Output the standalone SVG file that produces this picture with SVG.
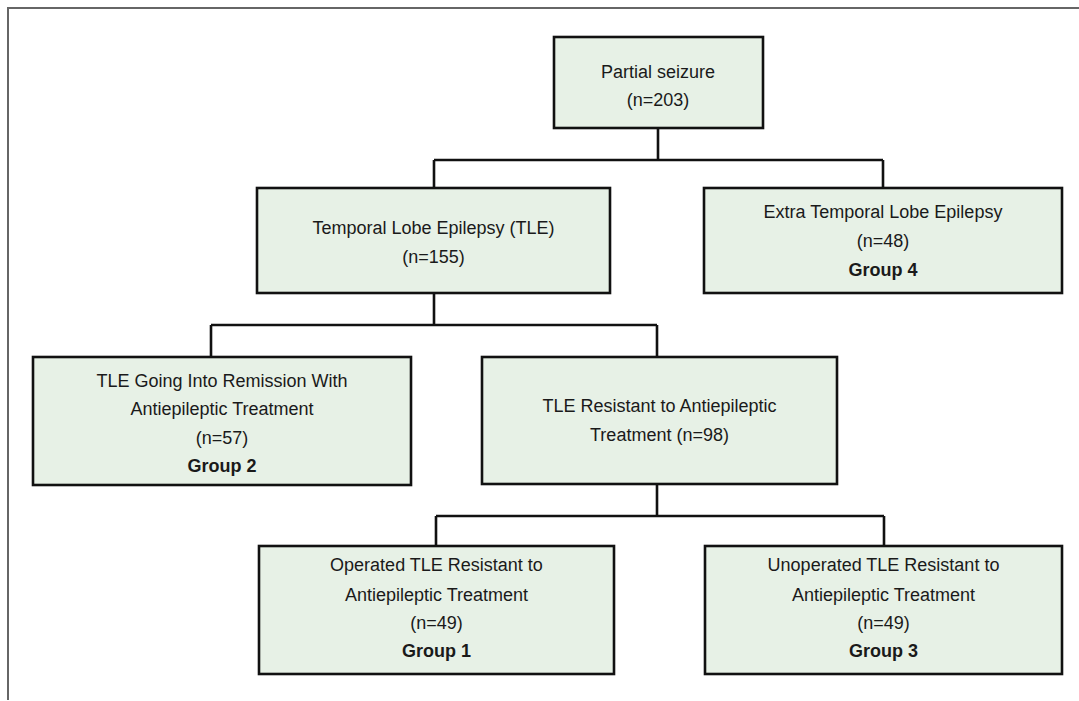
<svg xmlns="http://www.w3.org/2000/svg" width="1079" height="701" viewBox="0 0 1079 701">
<style>
.box{fill:#e7f1e6;stroke:#111;stroke-width:2.6}
.t{font-family:"Liberation Sans",Arial,sans-serif;font-size:18px;fill:#1a1a1a;text-anchor:middle}
.b{font-weight:bold}
.c{fill:none;stroke:#111;stroke-width:2.6}
.frame{fill:none;stroke:#666;stroke-width:2}
</style>
<rect width="1079" height="701" fill="#fff"/>
<path class="frame" d="M8,700 V8 H1079"/>
<g id="connectors">
<path class="c" d="M658,128 V160 M434,160 H883 M434,160 V188 M883,160 V188"/>
<path class="c" d="M434,293 V325 M211,325 H657 M211,325 V357 M657,325 V357"/>
<path class="c" d="M657,484 V516 M436,516 H884 M436,516 V546 M884,516 V546"/>
</g>
<g id="partial">
<rect class="box" x="554" y="37" width="209" height="91"/>
<text class="t" x="658" y="78">Partial seizure</text>
<text class="t" x="658" y="106">(n=203)</text>
</g>
<g id="tle">
<rect class="box" x="257" y="188" width="353" height="105"/>
<text class="t" x="433.5" y="234">Temporal Lobe Epilepsy (TLE)</text>
<text class="t" x="433.5" y="263">(n=155)</text>
</g>
<g id="extra">
<rect class="box" x="704" y="188" width="358" height="105"/>
<text class="t" x="883" y="218">Extra Temporal Lobe Epilepsy</text>
<text class="t" x="883" y="247">(n=48)</text>
<text class="t b" x="883" y="276">Group 4</text>
</g>
<g id="remission">
<rect class="box" x="33" y="357" width="378" height="128"/>
<text class="t" x="222" y="387">TLE Going Into Remission With</text>
<text class="t" x="222" y="415">Antiepileptic Treatment</text>
<text class="t" x="222" y="444">(n=57)</text>
<text class="t b" x="222" y="472">Group 2</text>
</g>
<g id="resistant">
<rect class="box" x="482" y="357" width="355" height="127"/>
<text class="t" x="659.5" y="412">TLE Resistant to Antiepileptic</text>
<text class="t" x="659.5" y="441">Treatment (n=98)</text>
</g>
<g id="operated">
<rect class="box" x="259" y="546" width="355" height="128"/>
<text class="t" x="436.5" y="571">Operated TLE Resistant to</text>
<text class="t" x="436.5" y="601">Antiepileptic Treatment</text>
<text class="t" x="436.5" y="629">(n=49)</text>
<text class="t b" x="436.5" y="657">Group 1</text>
</g>
<g id="unoperated">
<rect class="box" x="705" y="546" width="357" height="128"/>
<text class="t" x="883.5" y="571">Unoperated TLE Resistant to</text>
<text class="t" x="883.5" y="601">Antiepileptic Treatment</text>
<text class="t" x="883.5" y="629">(n=49)</text>
<text class="t b" x="883.5" y="657">Group 3</text>
</g>
</svg>
